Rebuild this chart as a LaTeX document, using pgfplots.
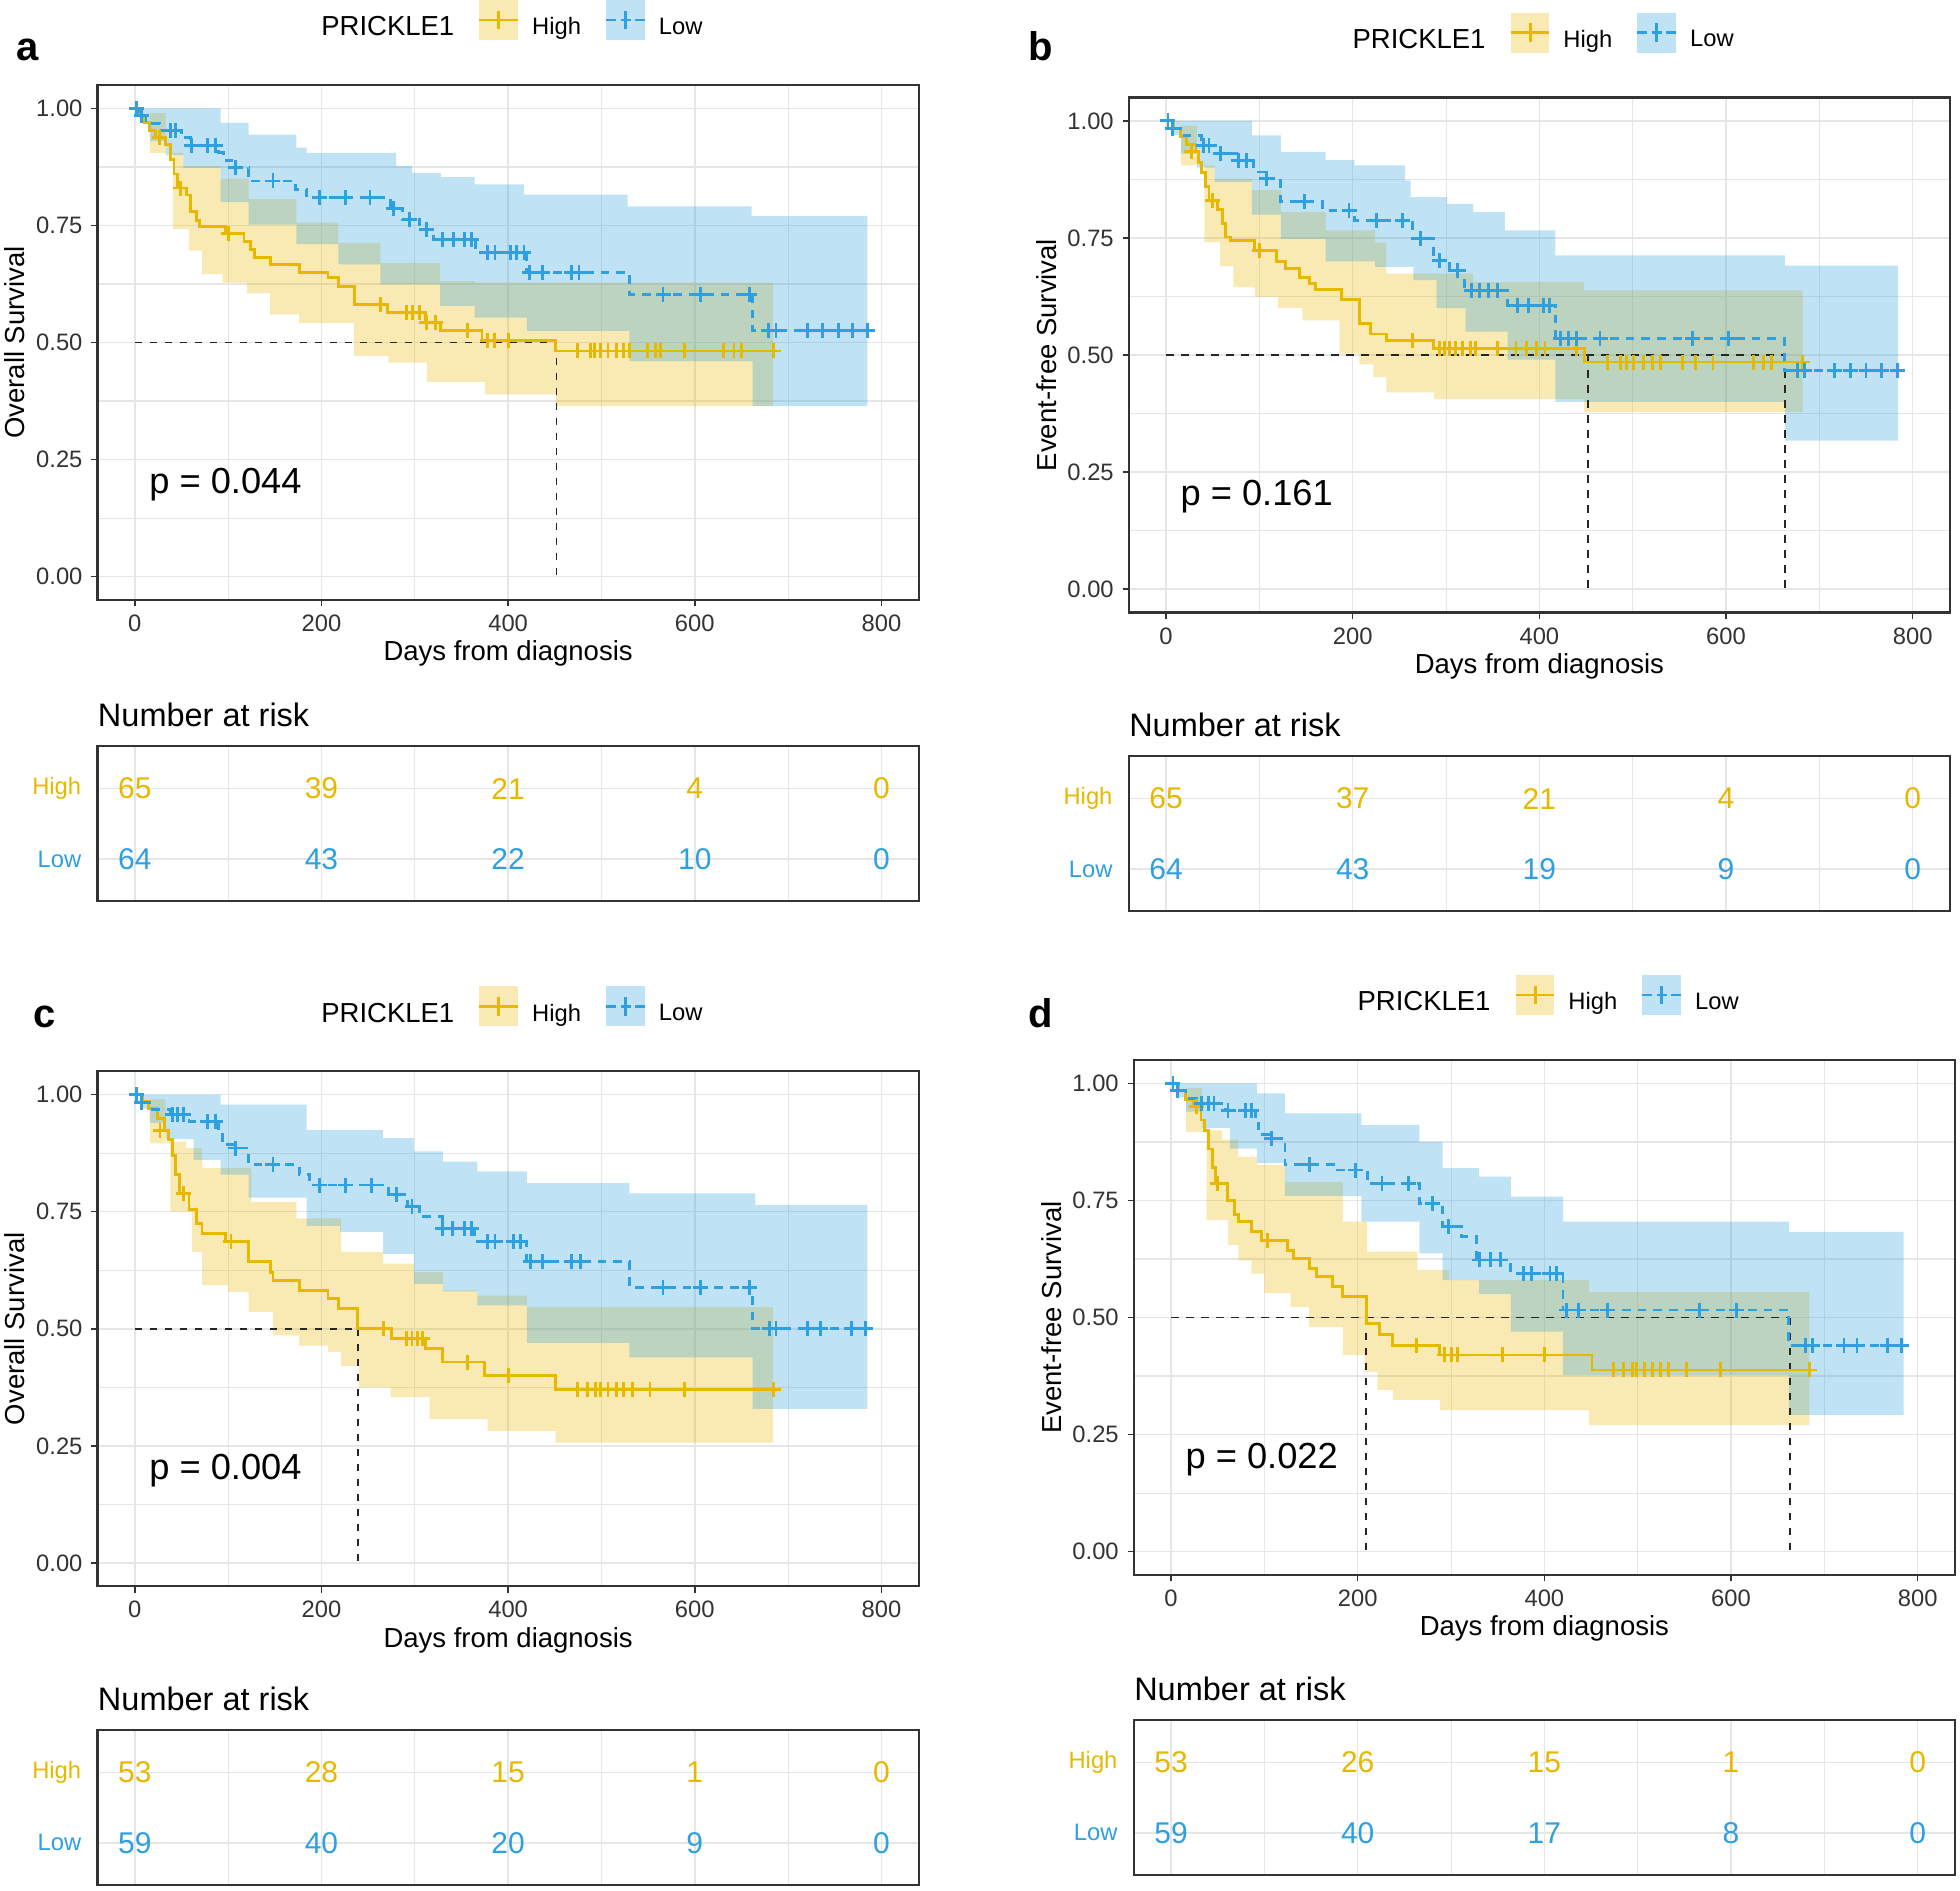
\documentclass[border=0pt]{standalone}
\usepackage{fontspec}
\setmainfont{Liberation Sans}
\usepackage{pgfplots}
\pgfplotsset{compat=1.18}
\usepgfplotslibrary{fillbetween}
\definecolor{highc}{HTML}{E7B800}
\definecolor{lowc}{HTML}{2E9FDF}
\definecolor{axc}{HTML}{333333}
\definecolor{gridc}{HTML}{E6E6E6}
\newcommand\fs[1]{\fontsize{#1}{#1}\selectfont}
\pgfplotsset{
  km/.style={
    scale only axis, width=328.5pt, height=206pt,
    xmin=-40, xmax=840, ymin=-0.05, ymax=1.05,
    xtick={0,200,400,600,800}, xticklabels={0,200,400,600,800},
    minor xtick={100,300,500,700},
    ytick={0,0.25,0.5,0.75,1}, yticklabels={0.00,0.25,0.50,0.75,1.00},
    minor ytick={0.125,0.375,0.625,0.875},
    grid=both,
    major grid style={draw=gridc, line width=0.6pt},
    minor grid style={draw=gridc, line width=0.45pt},
    axis line style={draw=axc, line width=0.9pt},
    tick align=outside, xtick pos=left, ytick pos=left,
    major tick length=2.5pt, minor tick length=0pt,
    tick style={draw=axc, line width=0.6pt},
    tick label style={font=\fs{9.5}, text=axc},
    clip=false,
    legend columns=3, legend cell align=left,
    legend style={draw=none, fill=none, at={(0.5,1)}, anchor=south, yshift=16pt,
      inner sep=0pt, font=\fs{9.5},
      /tikz/every odd column/.append style={column sep=3pt},
      /tikz/every even column/.append style={column sep=7.5pt}},
  },
  risk/.style={
    scale only axis, width=328.5pt, height=62pt,
    xmin=-40, xmax=840, ymin=0.4, ymax=2.6,
    xtick={0,200,400,600,800}, xticklabels={},
    minor xtick={100,300,500,700},
    ytick={1,2}, yticklabels={\textcolor{lowc}{Low},\textcolor{highc}{High}},
    grid=both,
    major grid style={draw=gridc, line width=0.6pt},
    minor grid style={draw=gridc, line width=0.45pt},
    axis line style={draw=axc, line width=0.9pt},
    major tick length=0pt, minor tick length=0pt,
    tick label style={font=\fs{9.5}},
    yticklabel style={xshift=-3pt},
    clip=false,
  },
  band/.style={draw=none, const plot, forget plot},
  hline/.style={highc, line width=1.15pt, const plot, forget plot},
  lline/.style={lowc, line width=1.15pt, const plot, forget plot, dash pattern=on 3.5pt off 2.8pt},
  hcens/.style={highc, only marks, mark=+, mark size=3pt, mark options={solid, line width=1.15pt}, forget plot},
  lcens/.style={lowc, only marks, mark=+, mark size=3pt, mark options={solid, line width=1.15pt}, forget plot},
  med/.style={black!85, line width=0.65pt, dash pattern=on 3pt off 3pt, forget plot},
  highleg/.style={legend image code/.code={
    \fill[draw=none, fill=highc, fill opacity=0.3] (0pt,-4.8pt) rectangle (15.5pt,11.2pt);
    \draw[highc, line width=1.15pt] (0pt,3.2pt) -- (15.5pt,3.2pt);
    \draw[highc, line width=1.15pt] (7.75pt,-0.5pt) -- (7.75pt,6.9pt);}},
  lowleg/.style={legend image code/.code={
    \fill[draw=none, fill=lowc, fill opacity=0.3] (0pt,-4.8pt) rectangle (15.5pt,11.2pt);
    \draw[lowc, line width=1.15pt, dash pattern=on 4pt off 1.75pt] (0pt,3.2pt) -- (15.5pt,3.2pt);
    \draw[lowc, line width=1.15pt] (7.75pt,-0.5pt) -- (7.75pt,6.9pt);}},
}
\newcommand\kmlegend{%
  \addlegendimage{empty legend}\addlegendentry{\fs{11}PRICKLE1}
  \addlegendimage{highleg}\addlegendentry{High}
  \addlegendimage{lowleg}\addlegendentry{Low}}
\newcommand\kmlabels[2]{%
  \node[rotate=90, anchor=center, font=\fs{11}] at ([xshift=-33pt]rel axis cs:0,0.5) {#1};
  \node[anchor=center, font=\fs{11}] at ([yshift=-21.5pt]rel axis cs:0.5,0) {Days from diagnosis};
  \node[anchor=west, inner sep=0pt, font=\fs{14.5}] at (axis cs:15,0.197) {#2};}
\newcommand\risktitle{%
  \addplot[draw=none, forget plot] coordinates {(0,1) (800,2)};
  \node[anchor=base west, inner sep=0pt, font=\fs{13}] at ([yshift=8pt]rel axis cs:0,1) {Number at risk};}
\newcommand\rn[3]{\node[anchor=center, font=\fs{12}, text=#3] at (axis cs:#1) {#2};}
\begin{document}
\begin{tikzpicture}
% ================= panel a =================
\node[anchor=base west, font=\fs{16}\bfseries] at (3pt,-24pt) {a};
\begin{axis}[km, at={(39pt,-34pt)}, anchor=north west]
\addplot[band, name path=uHa] coordinates {(0,1) (16,0.99) (33,0.905) (52,0.877) (92,0.85) (122,0.806) (173,0.756) (218,0.713) (263,0.67) (327,0.631) (364,0.628) (684,0.628)};
\addplot[band, name path=lHa] coordinates {(0,1) (16,0.905) (41,0.742) (58,0.696) (72,0.646) (94,0.628) (120,0.605) (145,0.56) (176,0.542) (235,0.471) (272,0.457) (313,0.416) (375,0.389) (451,0.364) (684,0.364)};
\addplot[fill=highc, fill opacity=0.3, draw=none, forget plot] fill between[of=uHa and lHa];
\addplot[band, name path=uLa] coordinates {(0,1) (92,0.969) (122,0.944) (173,0.916) (184,0.905) (280,0.877) (297,0.862) (328,0.853) (364,0.838) (417,0.816) (528,0.791) (661,0.77) (785,0.77)};
\addplot[band, name path=lLa] coordinates {(0,1) (8,0.97) (16,0.93) (33,0.9) (52,0.873) (92,0.8) (122,0.752) (173,0.71) (218,0.667) (263,0.624) (327,0.578) (364,0.553) (420,0.525) (530,0.46) (662,0.364) (785,0.364)};
\addplot[fill=lowc, fill opacity=0.3, draw=none, forget plot] fill between[of=uLa and lLa];
\addplot[med] coordinates {(0,0.5) (452,0.5)};
\addplot[med] coordinates {(452,0.5) (452,0)};
\addplot[hline] coordinates {(0,1) (5,0.985) (10,0.97) (16,0.953) (22,0.938) (33,0.923) (38,0.89) (42,0.86) (46,0.83) (55,0.815) (60,0.78) (66,0.76) (69,0.747) (97,0.732) (117,0.715) (124,0.699) (128,0.681) (145,0.667) (176,0.649) (207,0.638) (218,0.62) (235,0.581) (271,0.564) (311,0.542) (328,0.525) (372,0.505) (451,0.482) (684,0.482)};
\addplot[lline] coordinates {(0,1) (5,0.984) (12,0.968) (27,0.952) (50,0.937) (60,0.921) (90,0.905) (95,0.889) (107,0.873) (122,0.845) (172,0.827) (184,0.809) (274,0.786) (287,0.763) (305,0.742) (320,0.72) (365,0.692) (420,0.649) (530,0.603) (662,0.525) (788,0.525)};
\addplot[hcens] coordinates {(26,0.938) (49,0.83) (100,0.732) (263,0.581) (291,0.564) (298,0.564) (305,0.564) (313,0.542) (322,0.542) (356,0.525) (378,0.505) (385,0.505) (400,0.505) (474,0.482) (488,0.482) (493,0.482) (499,0.482) (507,0.482) (516,0.482) (524,0.482) (530,0.482) (549,0.482) (558,0.482) (563,0.482) (589,0.482) (631,0.482) (642,0.482) (650,0.482) (684,0.482)};
\addplot[lcens] coordinates {(2,1) (7,0.984) (38,0.952) (44,0.952) (61,0.921) (78,0.921) (86,0.921) (108,0.873) (148,0.845) (198,0.809) (226,0.809) (252,0.809) (277,0.786) (294,0.763) (313,0.742) (330,0.72) (341,0.72) (353,0.72) (361,0.72) (378,0.692) (386,0.692) (403,0.692) (409,0.692) (417,0.692) (423,0.649) (437,0.649) (468,0.649) (476,0.649) (566,0.603) (606,0.603) (659,0.603) (679,0.525) (687,0.525) (721,0.525) (737,0.525) (754,0.525) (769,0.525) (785,0.525)};
\kmlegend
\kmlabels{Overall Survival}{p = 0.044}
\end{axis}
\begin{axis}[risk, at={(39pt,-298.5pt)}, anchor=north west]
\risktitle
\rn{0,2}{65}{highc}\rn{200,2}{39}{highc}\rn{400,2}{21}{highc}\rn{600,2}{4}{highc}\rn{800,2}{0}{highc}
\rn{0,1}{64}{lowc}\rn{200,1}{43}{lowc}\rn{400,1}{22}{lowc}\rn{600,1}{10}{lowc}\rn{800,1}{0}{lowc}
\end{axis}
% ================= panel b =================
\node[anchor=base west, font=\fs{16}\bfseries] at (408pt,-24pt) {b};
\begin{axis}[km, at={(451.5pt,-39pt)}, anchor=north west]
\addplot[band, name path=uHb] coordinates {(0,1) (16,0.99) (33,0.905) (52,0.877) (92,0.852) (123,0.805) (171,0.766) (224,0.74) (236,0.674) (329,0.656) (448,0.638) (682,0.638)};
\addplot[band, name path=lHb] coordinates {(0,1) (16,0.905) (41,0.741) (58,0.69) (72,0.645) (95,0.624) (120,0.6) (146,0.574) (186,0.503) (207,0.48) (222,0.453) (236,0.42) (287,0.406) (448,0.378) (682,0.378)};
\addplot[fill=highc, fill opacity=0.3, draw=none, forget plot] fill between[of=uHb and lHb];
\addplot[band, name path=uLb] coordinates {(0,1) (92,0.969) (123,0.934) (171,0.916) (202,0.905) (256,0.873) (262,0.837) (301,0.823) (329,0.805) (363,0.766) (417,0.713) (663,0.691) (784,0.691)};
\addplot[band, name path=lLb] coordinates {(0,1) (8,0.97) (16,0.93) (33,0.9) (52,0.87) (92,0.8) (123,0.748) (171,0.7) (224,0.688) (265,0.66) (290,0.6) (321,0.55) (366,0.49) (417,0.4) (663,0.317) (784,0.317)};
\addplot[fill=lowc, fill opacity=0.3, draw=none, forget plot] fill between[of=uLb and lLb];
\addplot[med] coordinates {(0,0.5) (663,0.5)};
\addplot[med] coordinates {(452,0.5) (452,0)};
\addplot[med] coordinates {(663,0.5) (663,0)};
\addplot[hline] coordinates {(0,1) (8,0.985) (15,0.966) (22,0.95) (32,0.934) (35,0.912) (38,0.89) (42,0.86) (46,0.83) (55,0.81) (60,0.78) (64,0.752) (69,0.745) (95,0.723) (118,0.7) (128,0.684) (143,0.666) (154,0.652) (160,0.64) (188,0.618) (207,0.567) (219,0.545) (236,0.531) (287,0.513) (448,0.485) (682,0.485)};
\addplot[lline] coordinates {(0,1) (7,0.984) (16,0.968) (38,0.948) (58,0.93) (75,0.916) (94,0.891) (106,0.877) (123,0.827) (168,0.809) (202,0.788) (264,0.748) (287,0.702) (304,0.681) (320,0.638) (366,0.606) (417,0.535) (663,0.467) (789,0.467)};
\addplot[hcens] coordinates {(27,0.934) (50,0.83) (100,0.723) (264,0.531) (293,0.513) (298,0.513) (304,0.513) (310,0.513) (318,0.513) (326,0.513) (332,0.513) (355,0.513) (375,0.513) (386,0.513) (397,0.513) (406,0.513) (440,0.513) (473,0.485) (487,0.485) (493,0.485) (501,0.485) (512,0.485) (521,0.485) (530,0.485) (553,0.485) (567,0.485) (586,0.485) (629,0.485) (640,0.485) (649,0.485) (682,0.485)};
\addplot[lcens] coordinates {(2,1) (7,0.984) (40,0.948) (46,0.948) (58,0.93) (78,0.916) (86,0.916) (108,0.877) (148,0.827) (196,0.809) (225,0.788) (253,0.788) (273,0.748) (293,0.702) (312,0.681) (327,0.638) (336,0.638) (345,0.638) (355,0.638) (377,0.606) (388,0.606) (404,0.606) (411,0.606) (423,0.535) (431,0.535) (440,0.535) (465,0.535) (564,0.535) (603,0.535) (677,0.467) (684,0.467) (716,0.467) (733,0.467) (750,0.467) (767,0.467) (784,0.467)};
\kmlegend
\kmlabels{Event-free Survival}{p = 0.161}
\end{axis}
\begin{axis}[risk, at={(451.5pt,-302.5pt)}, anchor=north west]
\risktitle
\rn{0,2}{65}{highc}\rn{200,2}{37}{highc}\rn{400,2}{21}{highc}\rn{600,2}{4}{highc}\rn{800,2}{0}{highc}
\rn{0,1}{64}{lowc}\rn{200,1}{43}{lowc}\rn{400,1}{19}{lowc}\rn{600,1}{9}{lowc}\rn{800,1}{0}{lowc}
\end{axis}
% ================= panel c =================
\node[anchor=base west, font=\fs{16}\bfseries] at (10pt,-411pt) {c};
\begin{axis}[km, at={(39pt,-428.5pt)}, anchor=north west]
\addplot[band, name path=uHc] coordinates {(0,1) (16,0.99) (33,0.9) (55,0.886) (72,0.843) (125,0.771) (173,0.736) (221,0.664) (266,0.639) (299,0.621) (330,0.582) (367,0.571) (420,0.546) (684,0.546)};
\addplot[band, name path=lHc] coordinates {(0,1) (16,0.896) (38,0.75) (61,0.664) (72,0.593) (100,0.579) (122,0.536) (148,0.486) (176,0.464) (207,0.45) (221,0.421) (240,0.375) (274,0.354) (316,0.307) (378,0.282) (451,0.257) (684,0.257)};
\addplot[fill=highc, fill opacity=0.3, draw=none, forget plot] fill between[of=uHc and lHc];
\addplot[band, name path=uLc] coordinates {(0,1) (92,0.979) (184,0.925) (266,0.907) (299,0.879) (330,0.857) (367,0.836) (420,0.811) (530,0.789) (665,0.764) (785,0.764)};
\addplot[band, name path=lLc] coordinates {(0,1) (8,0.97) (16,0.94) (33,0.905) (63,0.861) (92,0.829) (122,0.78) (184,0.72) (220,0.707) (266,0.66) (299,0.596) (330,0.58) (367,0.55) (420,0.47) (530,0.439) (662,0.329) (785,0.329)};
\addplot[fill=lowc, fill opacity=0.3, draw=none, forget plot] fill between[of=uLc and lLc];
\addplot[med] coordinates {(0,0.5) (239,0.5)};
\addplot[med] coordinates {(239,0.5) (239,0)};
\addplot[hline] coordinates {(0,1) (8,0.985) (15,0.971) (24,0.95) (32,0.923) (36,0.904) (40,0.87) (44,0.83) (48,0.789) (58,0.755) (66,0.725) (72,0.704) (97,0.686) (122,0.643) (145,0.621) (148,0.604) (176,0.582) (207,0.564) (218,0.543) (239,0.5) (275,0.479) (311,0.457) (330,0.429) (375,0.4) (451,0.371) (684,0.371)};
\addplot[lline] coordinates {(0,1) (7,0.984) (16,0.968) (38,0.957) (58,0.943) (90,0.921) (94,0.893) (108,0.886) (122,0.85) (176,0.829) (187,0.807) (272,0.786) (292,0.761) (305,0.739) (330,0.714) (364,0.686) (420,0.643) (530,0.589) (662,0.5) (788,0.5)};
\addplot[hcens] coordinates {(27,0.923) (52,0.789) (103,0.686) (266,0.5) (291,0.479) (297,0.479) (303,0.479) (308,0.479) (356,0.429) (400,0.4) (474,0.371) (485,0.371) (494,0.371) (499,0.371) (507,0.371) (516,0.371) (524,0.371) (533,0.371) (552,0.371) (589,0.371) (684,0.371)};
\addplot[lcens] coordinates {(2,1) (7,0.984) (40,0.957) (46,0.957) (52,0.957) (78,0.943) (86,0.943) (108,0.886) (148,0.85) (198,0.807) (226,0.807) (254,0.807) (280,0.786) (297,0.761) (330,0.714) (340,0.714) (353,0.714) (361,0.714) (378,0.686) (386,0.686) (406,0.686) (413,0.686) (424,0.643) (437,0.643) (468,0.643) (478,0.643) (566,0.589) (606,0.589) (659,0.589) (680,0.5) (687,0.5) (721,0.5) (735,0.5) (768,0.5) (783,0.5)};
\kmlegend
\kmlabels{Overall Survival}{p = 0.004}
\end{axis}
\begin{axis}[risk, at={(39pt,-692pt)}, anchor=north west]
\risktitle
\rn{0,2}{53}{highc}\rn{200,2}{28}{highc}\rn{400,2}{15}{highc}\rn{600,2}{1}{highc}\rn{800,2}{0}{highc}
\rn{0,1}{59}{lowc}\rn{200,1}{40}{lowc}\rn{400,1}{20}{lowc}\rn{600,1}{9}{lowc}\rn{800,1}{0}{lowc}
\end{axis}
% ================= panel d =================
\node[anchor=base west, font=\fs{16}\bfseries] at (408pt,-411pt) {d};
\begin{axis}[km, at={(453.5pt,-424pt)}, anchor=north west]
\addplot[band, name path=uHd] coordinates {(0,1) (16,0.99) (33,0.9) (55,0.88) (72,0.843) (92,0.826) (122,0.79) (184,0.705) (210,0.641) (264,0.601) (298,0.58) (448,0.555) (684,0.555)};
\addplot[band, name path=lHd] coordinates {(0,1) (16,0.896) (38,0.708) (61,0.655) (72,0.622) (86,0.594) (100,0.552) (128,0.523) (148,0.48) (184,0.42) (207,0.384) (221,0.345) (238,0.324) (288,0.302) (448,0.27) (684,0.27)};
\addplot[fill=highc, fill opacity=0.3, draw=none, forget plot] fill between[of=uHd and lHd];
\addplot[band, name path=uLd] coordinates {(0,1) (92,0.979) (122,0.936) (204,0.911) (266,0.875) (291,0.819) (330,0.801) (364,0.758) (420,0.705) (662,0.683) (785,0.683)};
\addplot[band, name path=lLd] coordinates {(0,1) (8,0.97) (16,0.94) (33,0.905) (63,0.861) (92,0.83) (122,0.76) (204,0.705) (266,0.637) (291,0.58) (330,0.55) (364,0.47) (420,0.377) (662,0.292) (785,0.292)};
\addplot[fill=lowc, fill opacity=0.3, draw=none, forget plot] fill between[of=uLd and lLd];
\addplot[med] coordinates {(0,0.5) (663,0.5)};
\addplot[med] coordinates {(209,0.5) (209,0)};
\addplot[med] coordinates {(663,0.5) (663,0)};
\addplot[hline] coordinates {(0,1) (8,0.985) (15,0.966) (24,0.95) (32,0.922) (36,0.9) (40,0.86) (44,0.82) (48,0.786) (60,0.75) (68,0.72) (72,0.705) (86,0.683) (97,0.665) (125,0.644) (131,0.626) (148,0.605) (156,0.587) (173,0.566) (184,0.544) (209,0.488) (223,0.463) (237,0.441) (288,0.42) (451,0.388) (684,0.388)};
\addplot[lline] coordinates {(0,1) (7,0.984) (16,0.968) (27,0.957) (58,0.943) (90,0.922) (94,0.89) (108,0.883) (122,0.826) (176,0.815) (210,0.786) (266,0.744) (291,0.694) (311,0.673) (327,0.623) (364,0.594) (420,0.516) (662,0.441) (788,0.441)};
\addplot[hcens] coordinates {(27,0.95) (50,0.786) (103,0.665) (263,0.441) (293,0.42) (300,0.42) (307,0.42) (355,0.42) (400,0.42) (474,0.388) (485,0.388) (494,0.388) (499,0.388) (507,0.388) (516,0.388) (524,0.388) (533,0.388) (552,0.388) (589,0.388) (684,0.388)};
\addplot[lcens] coordinates {(2,1) (7,0.984) (33,0.957) (40,0.957) (46,0.957) (61,0.943) (80,0.943) (86,0.943) (108,0.883) (148,0.826) (198,0.815) (226,0.786) (254,0.786) (280,0.744) (297,0.694) (330,0.623) (342,0.623) (353,0.623) (378,0.594) (386,0.594) (406,0.594) (413,0.594) (424,0.516) (437,0.516) (468,0.516) (566,0.516) (606,0.516) (680,0.441) (687,0.441) (721,0.441) (735,0.441) (768,0.441) (783,0.441)};
\kmlegend
\kmlabels{Event-free Survival}{p = 0.022}
\end{axis}
\begin{axis}[risk, at={(453.5pt,-688pt)}, anchor=north west]
\risktitle
\rn{0,2}{53}{highc}\rn{200,2}{26}{highc}\rn{400,2}{15}{highc}\rn{600,2}{1}{highc}\rn{800,2}{0}{highc}
\rn{0,1}{59}{lowc}\rn{200,1}{40}{lowc}\rn{400,1}{17}{lowc}\rn{600,1}{8}{lowc}\rn{800,1}{0}{lowc}
\end{axis}
\pgfresetboundingbox
\path[use as bounding box] (0,0) rectangle (784pt,-756pt);
\end{tikzpicture}
\end{document}
